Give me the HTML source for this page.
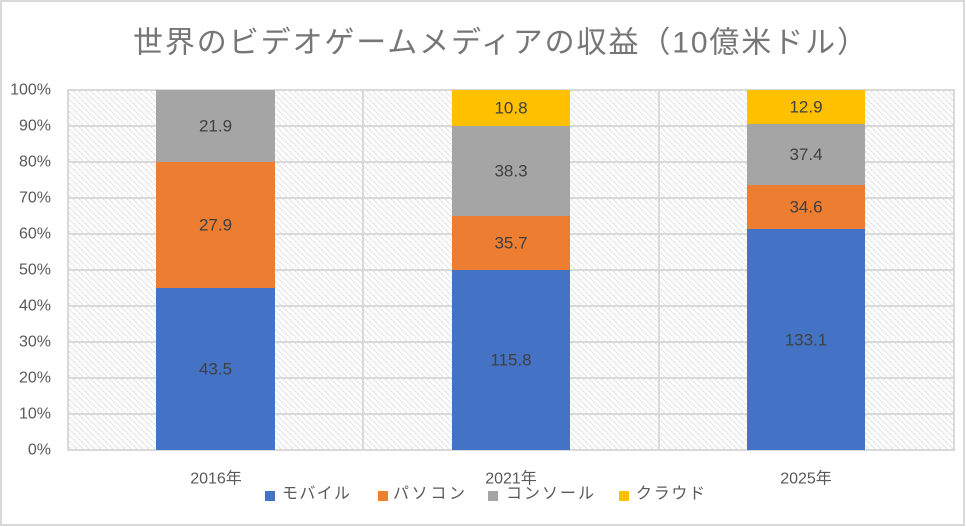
<!DOCTYPE html>
<html><head><meta charset="utf-8"><style>
html,body{margin:0;padding:0;background:#fff;}
svg{display:block;}
text{font-family:"Liberation Sans","Noto Sans CJK JP",sans-serif;}
</style></head><body>
<svg width="966" height="527" viewBox="0 0 966 527" xmlns="http://www.w3.org/2000/svg">
<defs>
<pattern id="h" patternUnits="userSpaceOnUse" width="6" height="6">
<rect width="6" height="6" fill="#fff"/>
<path d="M-1,-1 L7,7 M-1,5 L1,7 M5,-1 L7,1" stroke="#d9d9d9" stroke-width="1.2" stroke-dasharray="2,1"/>
</pattern>
</defs>
<rect x="0" y="0" width="966" height="527" fill="#fff"/>
<rect x="1" y="1" width="963" height="524" fill="none" stroke="#d9d9d9" stroke-width="2"/>
<text x="133" y="43" dominant-baseline="central" font-size="30" fill="#767676" textLength="734" lengthAdjust="spacing">世界のビデオゲームメディアの収益（10億米ドル）</text>
<rect x="68" y="90" width="886" height="360" fill="url(#h)"/>
<g stroke="#d9d9d9" stroke-width="2" fill="none">
<path d="M68,126H954M68,162H954M68,198H954M68,234H954M68,270H954M68,306H954M68,342H954M68,378H954M68,414H954"/>
<path d="M363,90V450M659,90V450"/>
<rect x="68" y="90" width="886" height="360"/>
</g>
<g font-size="16" fill="#595959" text-anchor="end" dominant-baseline="central">
<text x="51" y="90">100%</text><text x="51" y="126">90%</text><text x="51" y="162">80%</text>
<text x="51" y="198">70%</text><text x="51" y="234">60%</text><text x="51" y="270">50%</text>
<text x="51" y="306">40%</text><text x="51" y="342">30%</text><text x="51" y="378">20%</text>
<text x="51" y="414">10%</text><text x="51" y="450">0%</text>
</g>
<!-- bars -->
<rect x="156" y="288" width="119" height="162" fill="#4472c4"/>
<rect x="156" y="162" width="119" height="126" fill="#ed7d31"/>
<rect x="156" y="90" width="119" height="72" fill="#a5a5a5"/>
<rect x="452" y="270" width="118" height="180" fill="#4472c4"/>
<rect x="452" y="216" width="118" height="54" fill="#ed7d31"/>
<rect x="452" y="126" width="118" height="90" fill="#a5a5a5"/>
<rect x="452" y="90" width="118" height="36" fill="#ffc000"/>
<rect x="747" y="229" width="118" height="221" fill="#4472c4"/>
<rect x="747" y="185" width="118" height="44" fill="#ed7d31"/>
<rect x="747" y="124" width="118" height="61" fill="#a5a5a5"/>
<rect x="747" y="90" width="118" height="34" fill="#ffc000"/>
<g font-size="17" fill="#404040" text-anchor="middle" dominant-baseline="central">
<text x="215.5" y="369">43.5</text><text x="215.5" y="225">27.9</text><text x="215.5" y="126">21.9</text>
<text x="511" y="360">115.8</text><text x="511" y="243">35.7</text><text x="511" y="171">38.3</text><text x="511" y="108">10.8</text>
<text x="806" y="340">133.1</text><text x="806" y="207">34.6</text><text x="806" y="154.5">37.4</text><text x="806" y="107">12.9</text>
</g>
<g font-size="16" fill="#595959" text-anchor="middle" dominant-baseline="central">
<text x="216" y="479">2016年</text><text x="511" y="479">2021年</text><text x="806" y="479">2025年</text>
</g>
<rect x="265" y="491" width="10" height="10" fill="#4472c4"/>
<rect x="378" y="491" width="10" height="10" fill="#ed7d31"/>
<rect x="488" y="491" width="10" height="10" fill="#a5a5a5"/>
<rect x="619" y="491" width="10" height="10" fill="#ffc000"/>
<g font-size="16" fill="#595959" dominant-baseline="central">
<text x="282" y="494" textLength="68" lengthAdjust="spacing">モバイル</text>
<text x="393" y="494" textLength="72" lengthAdjust="spacing">パソコン</text>
<text x="506" y="494" textLength="88" lengthAdjust="spacing">コンソール</text>
<text x="636" y="494" textLength="69" lengthAdjust="spacing">クラウド</text>
</g>
</svg>
</body></html>
